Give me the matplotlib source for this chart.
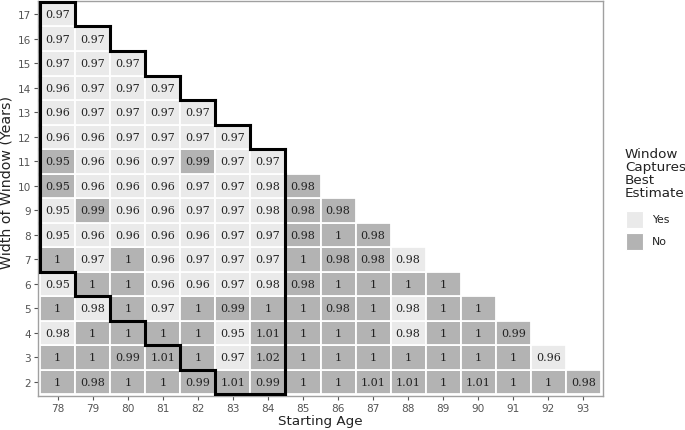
import matplotlib
matplotlib.use("Agg")
import matplotlib.pyplot as plt
from matplotlib.patches import Rectangle
from matplotlib.collections import LineCollection

start_ages = list(range(78, 94))
widths = list(range(2, 18))

# values per window width, listed by starting age from 78
values = {
    17: [0.97],
    16: [0.97, 0.97],
    15: [0.97, 0.97, 0.97],
    14: [0.96, 0.97, 0.97, 0.97],
    13: [0.96, 0.97, 0.97, 0.97, 0.97],
    12: [0.96, 0.96, 0.97, 0.97, 0.97, 0.97],
    11: [0.95, 0.96, 0.96, 0.97, 0.99, 0.97, 0.97],
    10: [0.95, 0.96, 0.96, 0.96, 0.97, 0.97, 0.98, 0.98],
    9:  [0.95, 0.99, 0.96, 0.96, 0.97, 0.97, 0.98, 0.98, 0.98],
    8:  [0.95, 0.96, 0.96, 0.96, 0.96, 0.97, 0.97, 0.98, 1, 0.98],
    7:  [1, 0.97, 1, 0.96, 0.97, 0.97, 0.97, 1, 0.98, 0.98, 0.98],
    6:  [0.95, 1, 1, 0.96, 0.96, 0.97, 0.98, 0.98, 1, 1, 1, 1],
    5:  [1, 0.98, 1, 0.97, 1, 0.99, 1, 1, 0.98, 1, 0.98, 1, 1],
    4:  [0.98, 1, 1, 1, 1, 0.95, 1.01, 1, 1, 1, 0.98, 1, 1, 0.99],
    3:  [1, 1, 0.99, 1.01, 1, 0.97, 1.02, 1, 1, 1, 1, 1, 1, 1, 0.96],
    2:  [1, 0.98, 1, 1, 0.99, 1.01, 0.99, 1, 1, 1.01, 1.01, 1, 1.01, 1, 1, 0.98],
}

# "Y" = window captures best estimate, "N" = does not
captures = {
    17: "Y",
    16: "YY",
    15: "YYY",
    14: "YYYY",
    13: "YYYYY",
    12: "YYYYYY",
    11: "NYYYNYY",
    10: "NYYYYYYN",
    9:  "YNYYYYYNN",
    8:  "YYYYYYYNNN",
    7:  "NYNYYYYNNNY",
    6:  "YNNYYYYNNNNN",
    5:  "NYNYNNNNNNYNN",
    4:  "YNNNNYNNNNYNNN",
    3:  "NNNNNYNNNNNNNNY",
    2:  "NNNNNNNNNNNNNNNN",
}

# highlighted region: starting ages 78-84 with window ending at age >= 85
hl_ages = (78, 84)
hl_end_min = 85

light = "#EAEAEA"
dark = "#B3B3B3"

fig = plt.figure(figsize=(6.85, 4.31), dpi=100)
ax = fig.add_axes([38 / 685, 1 - 396.7 / 431, (603 - 38) / 685, (396.7 - 1.5) / 431])

cells = set()
for w in widths:
    for i, v in enumerate(values[w]):
        a = start_ages[i]
        cells.add((a, w))
        fc = light if captures[w][i] == "Y" else dark
        ax.add_patch(Rectangle((a - 0.5, w - 0.5), 1, 1, facecolor=fc,
                               edgecolor="white", linewidth=1.3))
        ax.text(a, w, f"{v:g}", ha="center", va="center", fontsize=8,
                family="DejaVu Serif", color="#222222")

region = {(a, w) for (a, w) in cells if hl_ages[0] <= a <= hl_ages[1] and a + w >= hl_end_min}
segs = []
for (a, w) in region:
    if (a - 1, w) not in region:
        segs.append([(a - 0.5, w - 0.5), (a - 0.5, w + 0.5)])
    if (a + 1, w) not in region:
        segs.append([(a + 0.5, w - 0.5), (a + 0.5, w + 0.5)])
    if (a, w - 1) not in region:
        segs.append([(a - 0.5, w - 0.5), (a + 0.5, w - 0.5)])
    if (a, w + 1) not in region:
        segs.append([(a - 0.5, w + 0.5), (a + 0.5, w + 0.5)])
ax.add_collection(LineCollection(segs, colors="black", linewidths=2.2,
                                 capstyle="projecting", zorder=5))

pad = 0.06
ax.set_xlim(start_ages[0] - 0.5 - pad, start_ages[-1] + 0.5 + pad)
ax.set_ylim(widths[0] - 0.5 - pad, widths[-1] + 0.5 + pad)
ax.set_xticks(start_ages)
ax.set_yticks(widths)
ax.tick_params(axis="both", colors="#555555", labelcolor="#555555",
               labelsize=7.6, length=3, width=0.8, pad=2)
for s in ax.spines.values():
    s.set_color("#A0A0A0")
    s.set_linewidth(1.0)
ax.set_xlabel("Starting Age", fontsize=9.7, color="#222222", labelpad=1)
ax.set_ylabel("Width of Window (Years)", fontsize=10.2, color="#222222")
ax.yaxis.set_label_coords(-24 / 565, (396.7 - 183) / 395.2)

# legend
fig.text(625 / 685, 1 - 148 / 431, "Window\nCaptures\nBest\nEstimate",
         ha="left", va="top", fontsize=9.7, color="#222222", linespacing=1.0)
for k, (lab, col) in enumerate([("Yes", light), ("No", dark)]):
    y0 = 212 + k * 21.5
    fig.patches.append(Rectangle((626 / 685, 1 - (y0 + 17) / 431), 17 / 685, 17 / 431,
                                 transform=fig.transFigure, facecolor=col,
                                 edgecolor="white", linewidth=0.8))
    fig.text(652 / 685, 1 - (y0 + 8.5) / 431, lab, ha="left", va="center",
             fontsize=7.8, color="#222222")

fig.savefig("out.png", dpi=100)
